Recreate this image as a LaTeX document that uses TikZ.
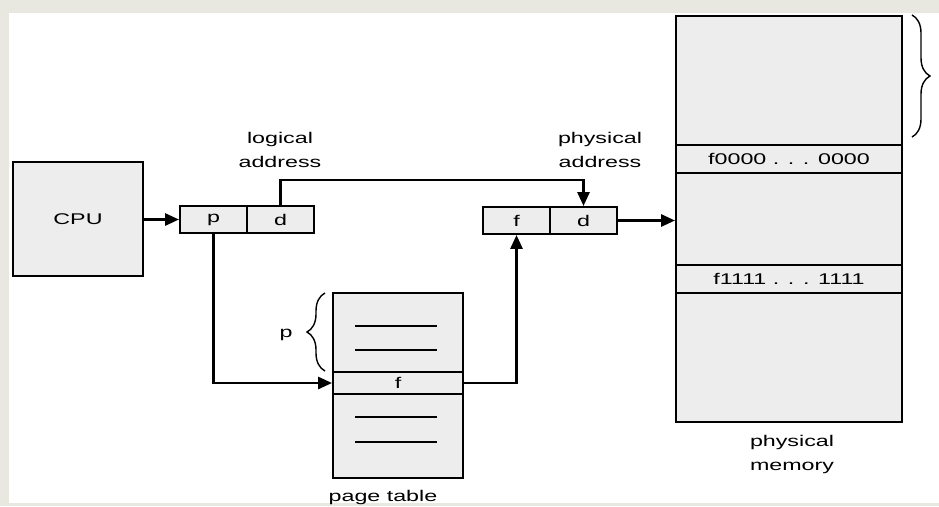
\documentclass[tikz,border=0pt]{standalone}
\usepackage{fontspec}
\setmainfont{Liberation Sans}[FakeStretch=1.5]
\usetikzlibrary{arrows.meta,decorations.pathreplacing}
\definecolor{pagebg}{RGB}{232,232,224}
\definecolor{cellgray}{RGB}{237,237,237}
\tikzset{
  box/.style={draw, rectangle, fill=cellgray, line width=1.9pt, inner sep=0pt, font=\fontsize{15.5}{24}\selectfont},
  cell/.style={box, minimum width=67pt, minimum height=27pt},
  memrow/.style={box, minimum width=226pt},
  ptrow/.style={box, minimum width=130pt},
  note/.style={font=\fontsize{15.5}{24}\selectfont, align=center},
  line/.style={-{Triangle[length=14pt,width=12pt]}, line width=2.8pt},
  brace/.style={decorate, decoration={brace, amplitude=18pt}, line width=1.4pt}
}

\begin{document}
\begin{tikzpicture}[x=1pt, y=-1pt]
    \useasboundingbox (0,0) rectangle (939,506);
    \fill[pagebg] (0,0) rectangle (939,506);
    \fill[white] (9,13) rectangle (939,503);

    \node[box, minimum width=130pt, minimum height=114pt] (cpu) at (78,219) {CPU};

    \node[cell] (lp) at (213.5,219.5) {p};
    \node[cell] (ld) at (280.5,219.5) {d};
    \node[note] (logical) at (280,150) {logical\\address};

    \node[cell] (pf) at (516.5,220.5) {f};
    \node[cell] (pd) at (583.5,220.5) {d};
    \node[note] (physical) at (600,150) {physical\\address};

    \node[ptrow, minimum height=79pt] (pttop) at (398,332.5) {};
    \node[ptrow, minimum height=22pt] (ptf) at (398,383) {f};
    \node[ptrow, minimum height=84pt] (ptbot) at (398,436) {};
    \foreach \y in {326,350,417,442}
        \draw[line width=1.3pt] (355,\y) -- (437,\y);
    \node[note] (ptlabel) at (383,497) {page table};
    \draw[brace] (325,371) -- (325,293);
    \node[note] (plabel) at (286,335) {p};

    \node[memrow, minimum height=129pt] (mtop) at (789,80.5) {};
    \node[memrow, minimum height=28pt] (m0) at (789,159) {f0000 . . . 0000};
    \node[memrow, minimum height=92pt] (mmid) at (789,219) {};
    \node[memrow, minimum height=28pt] (m1) at (789,279) {f1111 . . . 1111};
    \node[memrow, minimum height=129pt] (mbot) at (789,357.5) {};
    \node[note] (memlabel) at (792,454) {physical\\memory};
    \draw[brace] (912,15) -- (912,137);

    \draw[line] (cpu.east |- lp.west) -- (lp.west);
    \draw[line] (ld.north) -- ++(0,-25) -| (pd.north);
    \draw[line] (pd.east) -- (pd.east -| mmid.west);
    \draw[line] (lp.south) |- (ptf.west);
    \draw[line] (ptf.east) -| (pf.south);
\end{tikzpicture}
\end{document}
